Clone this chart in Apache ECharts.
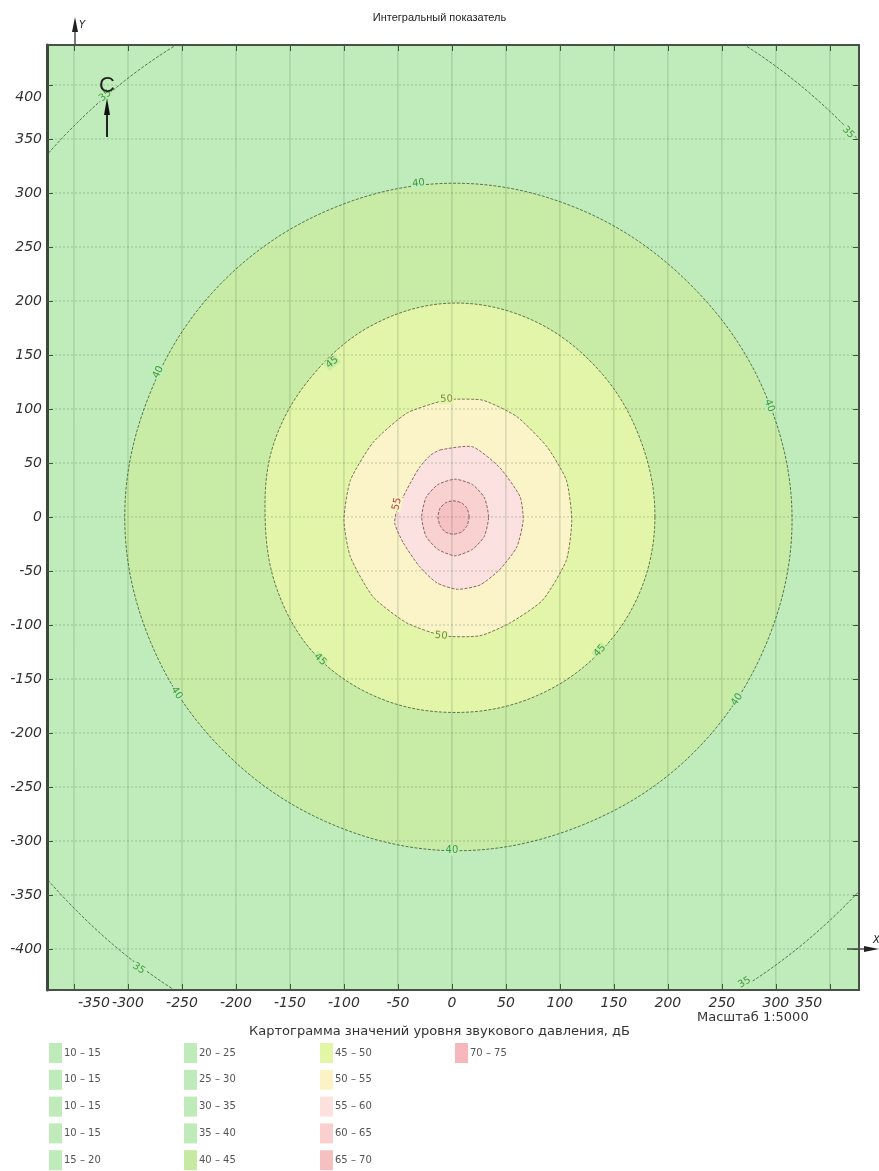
<!DOCTYPE html>
<html>
<head>
<meta charset="utf-8">
<script src="https://cdn.jsdelivr.net/npm/echarts@6/dist/echarts.min.js"></script>
<style>
html,body{margin:0;padding:0;background:#fff}
#chart{width:879px;height:1171px}
</style>
</head>
<body>
<div id="chart"></div>
<script>
// Tick values of the site plan (metres)
const xTicks = [-350, -300, -250, -200, -150, -100, -50, 0, 50, 100, 150, 200, 250, 300, 350];
const yTicks = [-400, -350, -300, -250, -200, -150, -100, -50, 0, 50, 100, 150, 200, 250, 300, 350, 400];

// Isoline levels, dB
const contourLevels = [35, 40, 45, 50, 55, 60, 65];

// Isoline vertices [x, y] in metres
const contour35 = [[515,0],[475,197],[363,363],[197,475],[0,512],[-194,469],[-356,356],[-463,192],[-500,0],[-463,-192],[-356,-356],[-195,-471],[0,-512],[196,-473],[362,-362],[475,-197]];
const contour40 = [[315,0],[288,119],[218,218],[118,285],[0,309],[-117,283],[-215,215],[-279,116],[-303,0],[-279,-116],[-214,-214],[-117,-282],[0,-309],[119,-286],[221,-221],[290,-120]];
const contour45 = [[188,0],[174,73],[136,136],[75,182],[0,198],[-73,178],[-130,130],[-165,68],[-173,0],[-162,-67],[-127,-127],[-69,-167],[0,-181],[70,-169],[131,-131],[173,-72]];
const contour50 = [[1,109],[29,108],[60,93],[88,65],[106,34],[111,-3],[106,-40],[84,-77],[54,-98],[26,-110],[-8,-110],[-42,-98],[-73,-74],[-94,-37],[-100,-3],[-94,34],[-73,69],[-42,96],[-11,107]];
const contour55 = [[-11,62],[19,65],[44,46],[63,19],[66,-3],[60,-28],[44,-49],[26,-63],[5,-67],[-14,-61],[-30,-46],[-45,-24],[-53,-6],[-51,6],[-42,25],[-30,46],[-20,57]];
const contour60 = [[34,0],[30,18],[19,30],[3,35],[-13,30],[-24,18],[-28,0],[-24,-18],[-13,-30],[3,-36],[19,-30],[30,-18]];
const contour65 = [[16,0],[14,8],[9,13],[1,15],[-6,13],[-11,8],[-13,0],[-11,-8],[-6,-14],[1,-16],[9,-14],[14,-8]];

// Isoline captions: [level, x, y]
const contourLabels = [
  [35, -321, 390], [35, 367, 356], [35, -290, -418], [35, 271, -431],
  [40, -31, 309], [40, 0, -309], [40, -272, 134], [40, 294, 103], [40, -255, -163], [40, 264, -169],
  [45, -111, 143], [45, -122, -132], [45, 137, -124],
  [50, -5, 109], [50, -10, -110],
  [55, -51, 12]
];

// Legend of the map
const legendLabels = [
  ['10 – 15', '10 – 15', '10 – 15', '10 – 15', '15 – 20'],
  ['20 – 25', '25 – 30', '30 – 35', '35 – 40', '40 – 45'],
  ['45 – 50', '50 – 55', '55 – 60', '60 – 65', '65 – 70'],
  ['70 – 75']
];
const legendColors = [
  ['#bfeab9', '#bfeab9', '#bfeab9', '#bfeab9', '#bfeab9'],
  ['#bfeab9', '#bfeab9', '#bfeab9', '#bfeab9', '#c7eaa3'],
  ['#e3f5a7', '#fbf3c6', '#fce1dd', '#f9d0ce', '#f6c0c1'],
  ['#f6b8bc']
];

const contours = [contour35, contour40, contour45, contour50, contour55, contour60, contour65];
const baseColor = '#c0ecbb';
const bandColors = ['#c0ecbb', '#c8eba6', '#e3f5a9', '#fbf4c9', '#fbe1df', '#f9d1d1', '#f6c1c3'];
const lineColors = ['rgba(60,90,55,0.9)', 'rgba(60,90,55,0.9)', 'rgba(70,90,55,0.9)', 'rgba(90,90,60,0.9)', 'rgba(120,70,70,0.9)', 'rgba(110,70,70,0.9)', 'rgba(110,70,70,0.9)'];
const labelColors = {35: '#3f9b3a', 40: '#3f9b3a', 45: '#3f9b3a', 50: '#7d8a4c', 55: '#c23b32'};

const FONT = "'DejaVu Sans', Verdana, sans-serif";
const chart = echarts.init(document.getElementById('chart'), null, {renderer: 'canvas'});

const levelItems = contourLevels.map((lv, i) => [0, 0, i]);

function axisTickStyle(values) {
  return {show: true, inside: true, length: 6, customValues: values, lineStyle: {color: '#475247', width: 1}};
}

const labelText = (v, first, last) => {
  if (v === first) return '{a|' + v + '}';
  if (v === last) return '{b|' + v + '}';
  return '{n|' + v + '}';
};
const labelFont = {fontFamily: FONT, fontSize: 14, fontStyle: 'italic', color: '#333'};

const option = {
  backgroundColor: '#fff',
  animation: false,
  title: {
    text: 'Интегральный показатель',
    left: 'center', top: 7,
    textStyle: {fontFamily: "'Liberation Sans', Arial, sans-serif", fontSize: 11, fontWeight: 'normal', color: '#222'}
  },
  grid: {
    left: 47, right: 20, top: 45, bottom: 181,
    show: true, backgroundColor: baseColor, borderWidth: 0
  },
  xAxis: [{
    type: 'value', min: -375, max: 377, position: 'bottom', z: 5,
    axisLine: {show: true, onZero: false, lineStyle: {color: '#475247', width: 2}},
    axisTick: axisTickStyle(xTicks),
    splitLine: {show: false},
    axisLabel: {
      customValues: xTicks, margin: 6,
      formatter: v => labelText(v, xTicks[0], xTicks[xTicks.length - 1]),
      rich: {
        n: labelFont,
        a: Object.assign({padding: [0, 0, 0, 40]}, labelFont),
        b: Object.assign({padding: [0, 42, 0, 0]}, labelFont)
      }
    }
  }, {
    type: 'value', min: -375, max: 377, position: 'top', z: 5,
    axisLine: {show: true, onZero: false, lineStyle: {color: '#475247', width: 2}},
    axisTick: axisTickStyle(xTicks),
    axisLabel: {show: false}, splitLine: {show: false}
  }],
  yAxis: [{
    type: 'value', min: -438, max: 437, position: 'left', z: 5,
    axisLine: {show: true, onZero: false, lineStyle: {color: '#3d473d', width: 3}},
    axisTick: axisTickStyle(yTicks),
    splitLine: {show: false},
    axisLabel: {
      customValues: yTicks, margin: 5,
      formatter: v => v === yTicks[yTicks.length - 1] ? '{b|' + v + '}' : '{n|' + v + '}',
      rich: {
        n: labelFont,
        b: Object.assign({padding: [24, 0, 0, 0]}, labelFont)
      }
    }
  }, {
    type: 'value', min: -438, max: 437, position: 'right', z: 5,
    axisLine: {show: true, onZero: false, lineStyle: {color: '#475247', width: 2}},
    axisTick: axisTickStyle(yTicks),
    axisLabel: {show: false}, splitLine: {show: false}
  }],
  series: [
    {
      // filled noise bands, outermost first
      name: 'bands', type: 'custom', z: 1, clip: true, silent: true,
      xAxisIndex: 0, yAxisIndex: 0,
      data: levelItems, encode: {x: 0, y: 1},
      renderItem: (params, api) => {
        const i = api.value(2);
        return {
          type: 'polygon',
          shape: {points: contours[i].map(p => api.coord(p)), smooth: i < 3 ? 0.35 : 0.2},
          style: {fill: bandColors[i]}
        };
      }
    },
    {
      // reference grid every 50 m
      name: 'grid', type: 'custom', z: 2, clip: true, silent: true,
      xAxisIndex: 0, yAxisIndex: 0,
      data: xTicks.map(v => [v, 0, 0]).concat(yTicks.map(v => [0, v, 1])),
      encode: {x: 0, y: 1},
      renderItem: (params, api) => {
        const vertical = api.value(2) === 0;
        const cs = params.coordSys;
        if (vertical) {
          const p = api.coord([api.value(0), 0]);
          return {type: 'line', shape: {x1: p[0], y1: cs.y, x2: p[0], y2: cs.y + cs.height},
            style: {stroke: 'rgba(60,105,60,0.28)', lineWidth: 1}};
        }
        const p = api.coord([0, api.value(1)]);
        return {type: 'line', shape: {x1: cs.x, y1: p[1], x2: cs.x + cs.width, y2: p[1]},
          style: {stroke: 'rgba(60,100,60,0.3)', lineWidth: 1, lineDash: [2, 2]}};
      }
    },
    {
      // isolines
      name: 'isolines', type: 'custom', z: 3, clip: true, silent: true,
      xAxisIndex: 0, yAxisIndex: 0,
      data: levelItems, encode: {x: 0, y: 1},
      renderItem: (params, api) => {
        const i = api.value(2);
        return {
          type: 'polygon',
          shape: {points: contours[i].map(p => api.coord(p)), smooth: i < 3 ? 0.35 : 0.2},
          style: {fill: null, stroke: lineColors[i], lineWidth: 0.9, lineDash: [3, 1.5]}
        };
      }
    },
    {
      // isoline captions
      name: 'captions', type: 'custom', z: 4, clip: true, silent: true,
      xAxisIndex: 0, yAxisIndex: 0,
      data: contourLabels, encode: {x: 1, y: 2},
      renderItem: (params, api) => {
        const lv = api.value(0), x = api.value(1), y = api.value(2);
        const p = api.coord([x, y]);
        let r = Math.atan2(y, x) + Math.PI / 2;
        while (r > Math.PI / 2) r -= Math.PI;
        while (r <= -Math.PI / 2) r += Math.PI;
        const li = contourLevels.indexOf(lv);
        return {
          type: 'text', x: p[0], y: p[1], rotation: r,
          style: {
            text: String(lv), fill: labelColors[lv], font: '10px ' + FONT,
            align: 'center', verticalAlign: 'middle',
            backgroundColor: li > 0 ? bandColors[li - 1] : baseColor, padding: [0, 1]
          }
        };
      }
    }
  ]
};

// legend and captions below the map
const graphics = [];
graphics.push({
  type: 'text', left: 'center', top: 1025,
  style: {text: 'Картограмма значений уровня звукового давления, дБ', font: '13px ' + FONT, fill: '#333'}
});
graphics.push({
  type: 'text', x: 697, y: 1011,
  style: {text: 'Масштаб 1:5000', font: '13px ' + FONT, fill: '#333'}
});
const colX = [49, 184, 320, 455];
legendLabels.forEach((col, c) => {
  col.forEach((txt, r) => {
    const y = 1043 + r * 26.8;
    graphics.push({type: 'rect', shape: {x: colX[c], y: y, width: 13, height: 20}, style: {fill: legendColors[c][r]}});
    graphics.push({type: 'text', x: colX[c] + 15, y: y + 10,
      style: {text: txt, font: '10px ' + FONT, fill: '#555', verticalAlign: 'middle'}});
  });
});
// axis direction arrows
graphics.push({type: 'line', shape: {x1: 75, y1: 45, x2: 75, y2: 28}, style: {stroke: '#222', lineWidth: 1.2}});
graphics.push({type: 'polygon', shape: {points: [[75, 17], [72, 32], [78, 32]]}, style: {fill: '#222'}});
graphics.push({type: 'text', x: 79, y: 25, style: {text: 'Y', font: 'italic 10px ' + FONT, fill: '#222', verticalAlign: 'middle'}});
graphics.push({type: 'line', shape: {x1: 847, y1: 949, x2: 866, y2: 949}, style: {stroke: '#222', lineWidth: 1.2}});
graphics.push({type: 'polygon', shape: {points: [[879, 949], [864, 946], [864, 952]]}, style: {fill: '#222'}});
graphics.push({type: 'text', x: 873, y: 940, style: {text: 'X', font: 'italic 10px ' + FONT, fill: '#222', verticalAlign: 'middle'}});
// north mark
graphics.push({type: 'text', x: 107, y: 86, z: 10,
  style: {text: 'C', font: "22px 'Liberation Sans', Arial, sans-serif", fill: '#222', align: 'center', verticalAlign: 'middle'}});
graphics.push({type: 'line', z: 10, shape: {x1: 107, y1: 137, x2: 107, y2: 112}, style: {stroke: '#111', lineWidth: 1.8}});
graphics.push({type: 'polygon', z: 10, shape: {points: [[107, 98], [104, 115], [110, 115]]}, style: {fill: '#111'}});
option.graphic = {elements: graphics};

chart.setOption(option);
</script>
</body>
</html>
